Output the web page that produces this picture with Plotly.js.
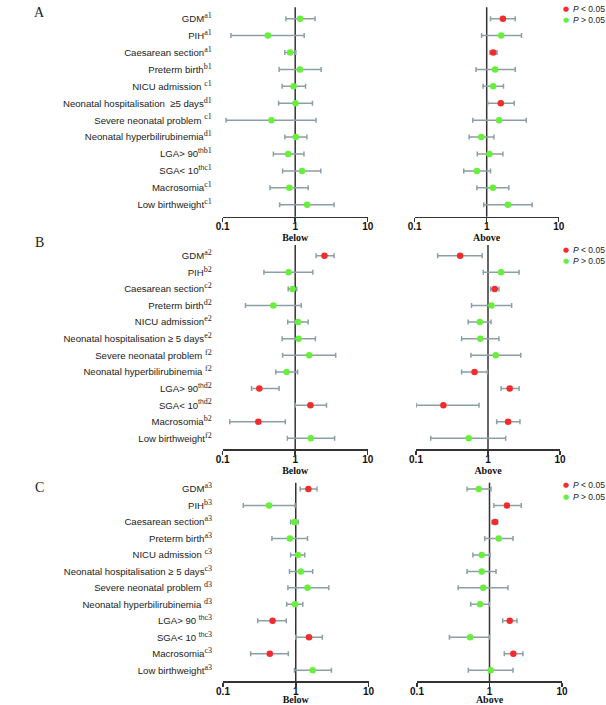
<!DOCTYPE html>
<html>
<head>
<meta charset="utf-8">
<script src="https://cdn.plot.ly/plotly-3.0.1.min.js"></script>
<style>html,body{margin:0;padding:0;background:#fff;}</style>
</head>
<body>
<div id="chart" style="width:606px;height:705px;"></div>
<script>
// ---- labels ----
const baseA = ['GDM','PIH','Caesarean section','Preterm birth','NICU admission&nbsp;','Neonatal hospitalisation&nbsp; ≥5 days','Severe neonatal problem&nbsp;','Neonatal hyperbilirubinemia','LGA&gt; 90<sup>th</sup>','SGA&lt; 10<sup>th</sup>','Macrosomia','Low birthweight'];
const supA  = ['a1','a1','a1','b1','c1','d1','c1','d1','b1','c1','c1','c1'];
const baseB = ['GDM','PIH','Caesarean section','Preterm birth','NICU admission','Neonatal hospitalisation ≥ 5 days','Severe neonatal problem&nbsp;','Neonatal hyperbilirubinemia&nbsp;','LGA&gt; 90<sup>th</sup>','SGA&lt; 10<sup>th</sup>','Macrosomia','Low birthweight'];
const supB  = ['a2','b2','c2','d2','e2','e2','f2','f2','d2','d2','b2','f2'];
const baseC = ['GDM','PIH','Caesarean section','Preterm birth','NICU admission&nbsp;','Neonatal hospitalisation ≥ 5 days','Severe neonatal problem&nbsp;','Neonatal hyperbilirubinemia&nbsp;','LGA&gt; 90&nbsp;<sup>th</sup>','SGA&lt; 10&nbsp;<sup>th</sup>','Macrosomia','Low birthweight'];
const supC  = ['a3','b3','a3','a3','c3','c3','d3','d3','c3','c3','c3','a3'];
const xTitles = ['Below','Above'];
const panelLetters = ['A','B','C'];
const legendTexts = ['<i>P</i> &lt; 0.05','<i>P</i> &gt; 0.05'];

// ---- data: odds ratio, lower CI, upper CI, significance (1 = P<0.05) ----
const A_below_or  = [1.17,0.42,0.85,1.16,0.95,1.01,0.47,1.02,0.80,1.24,0.83,1.46];
const A_below_lo  = [0.745,0.13,0.72,0.60,0.66,0.59,0.111,0.72,0.50,0.67,0.45,0.61];
const A_below_hi  = [1.88,1.33,1.02,2.28,1.39,1.73,1.94,1.45,1.32,2.26,1.51,3.44];
const A_below_sig = [0,0,0,0,0,0,0,0,0,0,0,0];

const A_above_or  = [1.68,1.59,1.23,1.31,1.23,1.57,1.49,0.84,1.09,0.73,1.22,1.97];
const A_above_lo  = [1.13,0.85,1.11,0.71,0.89,1.03,0.64,0.57,0.74,0.48,0.73,0.91];
const A_above_hi  = [2.49,3.04,1.39,2.49,1.71,2.41,3.54,1.26,1.68,1.13,2.03,4.28];
const A_above_sig = [1,0,1,0,0,1,0,0,0,0,0,0];

const B_below_or  = [2.53,0.81,0.92,0.50,1.09,1.11,1.56,0.76,0.32,1.62,0.31,1.64];
const B_below_lo  = [1.94,0.37,0.80,0.206,0.79,0.66,0.67,0.54,0.25,1.0,0.125,0.78];
const B_below_hi  = [3.44,1.75,1.05,1.21,1.51,1.90,3.62,1.08,0.60,2.70,0.73,3.50];
const B_below_sig = [1,0,0,0,0,0,0,0,1,1,1,0];

const B_above_or  = [0.41,1.52,1.24,1.12,0.77,0.78,1.28,0.65,2.0,0.24,1.9,0.54];
const B_above_lo  = [0.20,0.86,1.09,0.59,0.53,0.43,0.58,0.43,1.52,0.10,1.32,0.16];
const B_above_hi  = [0.83,2.70,1.42,2.13,1.10,1.42,2.85,0.98,2.70,0.75,2.78,1.76];
const B_above_sig = [1,0,1,0,0,0,0,1,1,1,1,0];

const C_below_or  = [1.49,0.43,0.96,0.83,1.07,1.18,1.45,0.98,0.48,1.52,0.44,1.71];
const C_below_lo  = [1.15,0.19,0.85,0.47,0.85,0.82,0.78,0.75,0.30,1.0,0.24,0.96];
const C_below_hi  = [1.96,0.98,1.08,1.45,1.33,1.71,2.84,1.25,0.74,2.32,0.79,3.09];
const C_below_sig = [1,0,0,0,0,0,0,0,1,1,1,0];

const C_above_or  = [0.71,1.74,1.19,1.34,0.78,0.78,0.82,0.74,1.90,0.54,2.13,1.04];
const C_above_lo  = [0.49,1.15,1.08,0.86,0.59,0.49,0.37,0.55,1.52,0.28,1.60,0.51];
const C_above_hi  = [1.05,2.74,1.30,2.11,1.02,1.23,1.80,0.99,2.39,1.0,2.89,2.11];
const C_above_sig = [0,1,1,0,0,0,0,0,1,0,1,0];

// ---- styling / layout geometry ----
const RED = '#f52a2a', GREEN = '#66f03a', ERR = '#8c9fa7', AX = '#333333';
const W = 606, H = 705;
function lbl(base, sup){
  return base.map((b,i)=> b + '<sup><span style="font-family:Liberation Serif;font-size:8px">' + sup[i] + '</span></sup>');
}
const panels = [
  {labels: lbl(baseA,supA), sides:[
     {or:A_below_or, lo:A_below_lo, hi:A_below_hi, sig:A_below_sig, dom:[222.7,367.7]},
     {or:A_above_or, lo:A_above_lo, hi:A_above_hi, sig:A_above_sig, dom:[414.7,558.7]}],
   ydom:[7.3,216.7], padT:0.675, padB:0.71, letterY:12, legY:[9,20]},
  {labels: lbl(baseB,supB), sides:[
     {or:B_below_or, lo:B_below_lo, hi:B_below_hi, sig:B_below_sig, dom:[222.7,367.7]},
     {or:B_above_or, lo:B_above_lo, hi:B_above_hi, sig:B_above_sig, dom:[416,560]}],
   ydom:[245,449.3], padT:0.645, padB:0.66, letterY:242, legY:[250,261.3]},
  {labels: lbl(baseC,supC), sides:[
     {or:C_below_or, lo:C_below_lo, hi:C_below_hi, sig:C_below_sig, dom:[223,368.5]},
     {or:C_above_or, lo:C_above_lo, hi:C_above_hi, sig:C_above_sig, dom:[417,562]}],
   ydom:[482.7,681], padT:0.38, padB:0.65, letterY:487, legY:[485,497.3]}
];

const traces = [], shapes = [], annotations = [];
const layout = {
  width:W, height:H, margin:{l:0,r:0,t:0,b:0},
  paper_bgcolor:'#ffffff', plot_bgcolor:'rgba(0,0,0,0)',
  showlegend:false, font:{family:'Liberation Sans', color:'#222'}
};

let n = 0;
panels.forEach((p, pi) => {
  p.sides.forEach((s, si) => {
    n += 1;
    const xa = n === 1 ? 'x' : 'x' + n, ya = n === 1 ? 'y' : 'y' + n;
    const xk = n === 1 ? 'xaxis' : 'xaxis' + n, yk = n === 1 ? 'yaxis' : 'yaxis' + n;
    traces.push({
      type:'scatter', mode:'markers', x:s.or, y:p.labels, xaxis:xa, yaxis:ya,
      marker:{size:6.5, color:s.sig.map(v => v ? RED : GREEN), line:{width:0}},
      error_x:{type:'data', symmetric:false,
        array:s.hi.map((h,i)=>h - s.or[i]), arrayminus:s.lo.map((l,i)=>s.or[i] - l),
        color:ERR, thickness:1.5, width:2.5},
      hoverinfo:'skip', cliponaxis:false
    });
    layout[xk] = {
      type:'log', range:[-1,1], domain:[s.dom[0]/W, s.dom[1]/W], anchor:ya,
      showline:true, linecolor:AX, linewidth:1.5, mirror:false,
      ticks:'outside', ticklen:4, tickwidth:1.5, tickcolor:AX,
      tickmode:'linear', tick0:0, dtick:1, ticklabelstandoff:-4,
      tickfont:{family:'Liberation Sans', size:10, weight:'bold', color:'#111'},
      showgrid:false, zeroline:false, fixedrange:true,
      title:{text:xTitles[si], font:{family:'Liberation Serif', size:10, weight:'bold', color:'#111'}, standoff:1}
    };
    layout[yk] = {
      type:'category', categoryorder:'array', categoryarray:p.labels,
      range:[p.labels.length - 1 + p.padB, -p.padT],
      domain:[1 - p.ydom[1]/H, 1 - p.ydom[0]/H], anchor:xa,
      showline:false, showgrid:false, zeroline:false, ticks:'',
      showticklabels: si === 0, ticklabelstandoff:10,
      tickfont:{family:'Liberation Sans', size:9.6, color:'#222'},
      fixedrange:true
    };
    shapes.push({type:'line', xref:xa, yref:ya + ' domain', x0:1, x1:1, y0:0, y1:1,
      line:{color:AX, width:1.5}, layer:'below'});
  });
  annotations.push({xref:'paper', yref:'paper', x:39/W, y:1 - p.letterY/H, xanchor:'center', yanchor:'middle',
    text:panelLetters[pi], showarrow:false, font:{family:'Liberation Serif', size:14, color:'#222'}});
  [RED, GREEN].forEach((c, li) => {
    annotations.push({xref:'paper', yref:'paper', x:566/W, y:1 - p.legY[li]/H, xanchor:'center', yanchor:'middle',
      text:'●', showarrow:false, font:{family:'DejaVu Sans', size:7, color:c}});
    annotations.push({xref:'paper', yref:'paper', x:572/W, y:1 - p.legY[li]/H, xanchor:'left', yanchor:'middle',
      text:legendTexts[li], showarrow:false, borderpad:0, font:{family:'Liberation Sans', size:8.5, color:'#222'}});
  });
});
layout.shapes = shapes;
layout.annotations = annotations;

Plotly.newPlot('chart', traces, layout, {staticPlot:true, displayModeBar:false});
</script>
</body>
</html>
